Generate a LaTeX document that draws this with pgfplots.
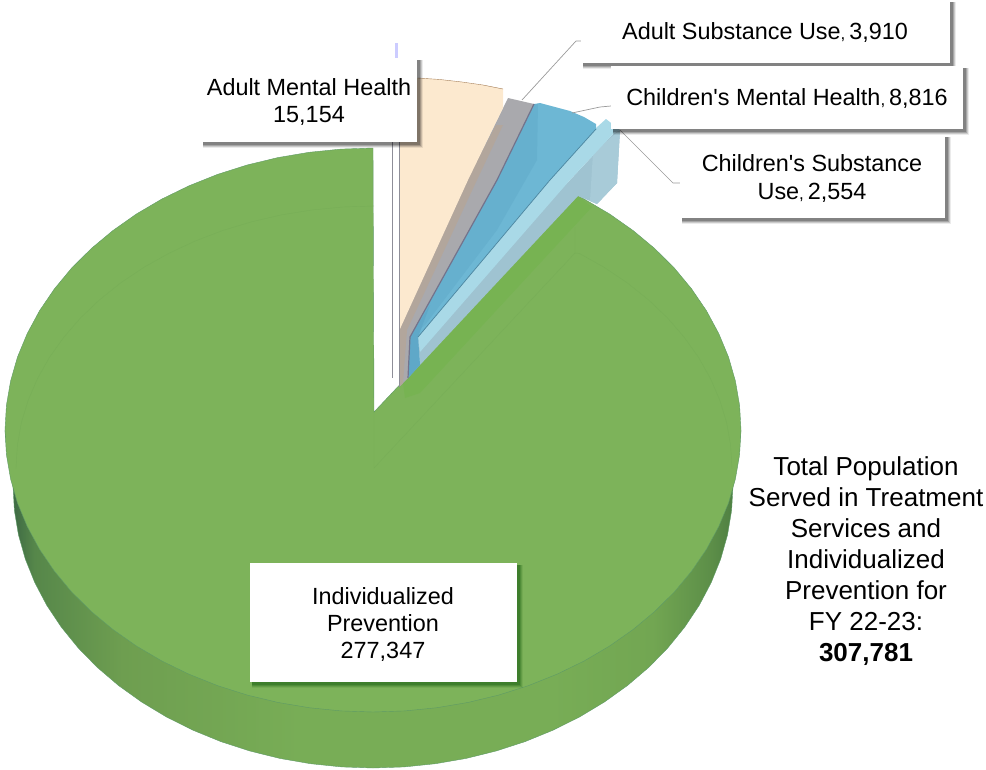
\documentclass[border=0pt]{standalone}
\usepackage{fontspec}
\setmainfont{Liberation Sans}
\newfontfamily\plainfont{Liberation Sans}
\usepackage{pgfplots}
\pgfplotsset{compat=1.18}

\definecolor{facegreen}{HTML}{7DB35A}
\definecolor{bandgreen}{HTML}{77B352}
\definecolor{rimline}{HTML}{5E9A66}
\definecolor{faintline}{HTML}{77AE57}
\definecolor{cream}{HTML}{FCE9CF}
\definecolor{subgray}{HTML}{A9A9AD}
\definecolor{subbrown}{HTML}{B2A69C}
\definecolor{midblue}{HTML}{6DB7D4}
\definecolor{leftblue}{HTML}{66B0CE}
\definecolor{deepblue}{HTML}{5FA8C8}
\definecolor{brightblue}{HTML}{A9D9E7}
\definecolor{sideblue}{HTML}{9FC3D1}
\definecolor{sidelight}{HTML}{A8CBD8}
\definecolor{leader}{HTML}{9A9A9A}
\definecolor{gapline}{HTML}{8E8E98}
\definecolor{wa}{HTML}{355F42}
\definecolor{wb}{HTML}{56874A}
\definecolor{wc}{HTML}{6E9E50}
\definecolor{wd}{HTML}{78AD56}
\definecolor{we}{HTML}{72A652}
\definecolor{wf}{HTML}{5C8E48}
\definecolor{wg}{HTML}{4A7A40}
\pgfdeclarehorizontalshading{wallshade}{100bp}{
  color(0bp)=(wa); color(25bp)=(wa); color(27bp)=(wb); color(33bp)=(wc);
  color(45bp)=(wd); color(62bp)=(wd); color(69bp)=(we); color(73bp)=(wf);
  color(75bp)=(wg); color(100bp)=(wg)}

% white label box with a soft offset shadow
\newcommand{\labelbox}[5][black]{%
  \fill[#1,opacity=0.08] (axis cs:#2+2,#3+2) rectangle (axis cs:#4+6,#5+6);
  \fill[#1,opacity=0.14] (axis cs:#2+2,#3+2) rectangle (axis cs:#4+5,#5+5);
  \fill[#1,opacity=0.18] (axis cs:#2+2,#3+2) rectangle (axis cs:#4+4,#5+4);
  \fill[#1,opacity=0.22] (axis cs:#2+2,#3+2) rectangle (axis cs:#4+3,#5+3);
  \fill[white] (axis cs:#2,#3) rectangle (axis cs:#4,#5);
}
\newcommand{\smallcomma}{{\fontsize{17}{17}\selectfont,}\,}
\newcommand{\apos}{{\plainfont'}}

\begin{document}
\begin{tikzpicture}
\begin{axis}[
  hide axis,
  scale only axis,
  width=986pt, height=769pt,
  xmin=0, xmax=986,
  ymin=0, ymax=769,
  y dir=reverse,
  clip=false,
]
% --- side wall of the big slice ---
\addplot[draw=rimline, line width=0.4pt, shading=wallshade, shading angle=0] coordinates {
  (733,486)(731.6,510.6)(727.5,535)(720.7,559)(711.3,582.4)(699.3,605.2)(684.8,627)(667.9,647.8)
  (648.8,667.3)(627.6,685.4)(604.4,702)(579.5,717)(553,730.2)(525.1,741.6)(496.1,751)(466.2,758.4)
  (435.5,763.7)(404.4,766.9)(373,768)(341.6,766.9)(310.5,763.7)(279.8,758.4)(249.9,751)(220.9,741.6)
  (193,730.2)(166.5,717)(141.6,702)(118.4,685.4)(97.2,667.3)(78.1,647.8)(61.2,627)(46.7,605.2)
  (34.7,582.4)(25.3,559)(18.5,535)(14.4,510.6)(13,486)(8,460)(5,430)(741,430)(738,460)
} -- cycle;

% --- top face of the big slice ---
\addplot[fill=facegreen, draw=rimline, line width=0.4pt] coordinates {
  (374,412)(373,148)
  (340.9,149.1)(309.1,152.3)(277.8,157.6)(247.1,165)(217.5,174.4)(189,185.8)(161.9,199)(136.4,214)
  (112.8,230.6)(91.1,248.7)(71.5,268.2)(54.3,289)(39.5,310.8)(27.2,333.6)(17.5,357)(10.6,381)(6.4,405.4)
  (5,430)(6.4,454.6)(10.6,479)(17.5,503)(27.2,526.4)(39.5,549.2)(54.3,571)(71.5,591.8)(91.1,611.3)
  (112.8,629.4)(136.4,646)(161.9,661)(189,674.2)(217.5,685.6)(247.1,695)(277.8,702.4)(309.1,707.7)
  (340.9,710.9)(373,712)(405.1,710.9)(436.9,707.7)(468.2,702.4)(498.9,695)(528.5,685.6)(557,674.2)
  (584.1,661)(609.6,646)(633.2,629.4)(654.9,611.3)(674.5,591.8)(691.7,571)(706.5,549.2)(718.8,526.4)
  (728.5,503)(735.4,479)(739.6,454.6)(741,430)
  (739.6,405.4)(735.4,381)(728.5,357)(718.8,333.6)(706.5,310.8)(691.7,289)(674.5,268.2)(654.9,248.7)
  (633.2,230.6)(609.6,214)(584.1,199)(578,196)
} -- cycle;

% brighter strip along the cut edge
\addplot[fill=bandgreen, draw=none] coordinates {(578,196)(592,207)(420,393)(405,398)(403,383)} -- cycle;

% faint inner outline of the face
\addplot[faintline, line width=0.4pt] coordinates {
  (374,206)(342.8,207)(311.8,210)(281.3,214.9)(251.6,221.8)(222.7,230.5)(195,241.1)(168.7,253.4)
  (143.9,267.3)(120.9,282.7)(99.8,299.6)(80.7,317.7)(64,337)(49.5,357.3)(37.6,378.4)(28.2,400.2)
  (21.4,422.5)(17.4,445.2)(16,468)};
\addplot[faintline, line width=0.4pt] coordinates {
  (579.3,253.4)(604.1,267.3)(627.1,282.7)(648.2,299.6)(667.3,317.7)(684,337)(698.5,357.3)(710.4,378.4)
  (719.8,400.2)(726.6,422.5)(730.6,445.2)(732,468)};
\addplot[faintline, line width=0.4pt] coordinates {(374,412)(374,468)(575,253)(575,227)};
\addplot[faintline, line width=0.4pt] coordinates {(575,253)(579.3,253.4)};

% --- lines in the white gap ---
\addplot[gapline, line width=0.9pt] coordinates {(392.7,130)(392.7,378)};
\addplot[color=blue!20, line width=3pt] coordinates {(396.5,43)(396.5,60)};

% --- Children's Substance Use ---
\addplot[fill=sideblue, draw=none] coordinates {(620,130)(617,183)(597,204)(578,196)(420,365)(418,337)(570,180)(614,133)} -- cycle;
\addplot[fill=sidelight, draw=none] coordinates {(593,153)(620,130)(617,183)(597,204)(590,201)} -- cycle;
\addplot[fill=brightblue, draw=none] coordinates {(596,128)(606,119)(620,130)(614,133)(570,180)(420,352)(418,337)(550,180)} -- cycle;

% --- Children's Mental Health ---
\addplot[fill=midblue, draw=none] coordinates {
  (540,103)(555,107)(570,111)(584,117)(596,124)(596,129)(550,180)(418,337)(420,365)(408,378)(410,337)(497,180)(534,104)} -- cycle;
\addplot[fill=leftblue, draw=none] coordinates {(538,104)(537,160)(497,230)(425,325)(410,337)(497,180)(534,104)} -- cycle;
\addplot[fill=deepblue, draw=none] coordinates {(410,337)(430,305)(418,337)(420,365)(408,378)} -- cycle;
\addplot[color=deepblue!80!black, line width=0.7pt] coordinates {(596,129)(550,180)(418,337)};

% --- Adult Substance Use ---
\addplot[fill=subgray, draw=none] coordinates {(503,108)(508,98)(534,104)(497,180)(410,337)(408,378)(399,387)(399,330)(467,180)} -- cycle;
\addplot[fill=subbrown, draw=none] coordinates {(496,125)(503,125)(477,180)(407,330)(403,383)(399,387)(399,330)(467,180)} -- cycle;
\addplot[color=gray!90!blue, line width=1.2pt] coordinates {(534,104)(497,180)(410,337)(408,378)};

% --- Adult Mental Health ---
\addplot[fill=cream, draw=none] coordinates {(399.5,77)(418,78)(440,79.5)(462,82)(483,85)(503,89)(503,108)(468,180)(399.5,330)} -- cycle;
\addplot[gapline, line width=0.7pt] coordinates {(399.5,130)(399.5,387)};
\addplot[color=brown!60!gray, line width=0.4pt] coordinates {(418,78)(440,79.5)(462,82)(483,85)(503,89)};

% --- leader lines ---
\addplot[leader, line width=0.7pt] coordinates {(522,100)(576,41)(581,41)};
\addplot[leader, line width=0.7pt] coordinates {(572,113)(600,107)(611,106)};
\addplot[leader, line width=0.7pt] coordinates {(620,130)(673,183)(680,183)};

% --- labels ---
\labelbox{201}{58}{417}{142}
\labelbox{581}{0}{950}{63}
\labelbox[black!70!green]{250}{563}{517}{682}
\labelbox{680}{135}{945}{218}
\labelbox{611}{66}{963}{129}

\node[align=center, font=\fontsize{23.4}{27}\selectfont] at (axis cs:309,102) {Adult Mental Health\\15,154};
\node[font=\fontsize{23.4}{27}\selectfont] at (axis cs:765,33) {Adult Substance Use\smallcomma3,910};
\node[font=\fontsize{23.4}{27}\selectfont] at (axis cs:787,99) {Children\apos s Mental Health\smallcomma8,816};
\node[align=center, font=\fontsize{23.4}{28}\selectfont] at (axis cs:812,179) {Children\apos s Substance\\Use\smallcomma2,554};
\node[align=center, font=\fontsize{23.4}{27}\selectfont] at (axis cs:383,625) {Individualized\\Prevention\\277,347};
\node[align=center, font=\fontsize{26}{30.9}\selectfont] at (axis cs:866,561) {Total Population\\Served in Treatment\\Services and\\Individualized\\Prevention for\\FY 22-23:\\\textbf{307,781}};
\end{axis}
% the hidden axis gives no box of its own: fix the page to the axis rectangle
\pgfresetboundingbox
\path[use as bounding box] (0,0) rectangle (986pt,769pt);
\end{tikzpicture}
\end{document}
